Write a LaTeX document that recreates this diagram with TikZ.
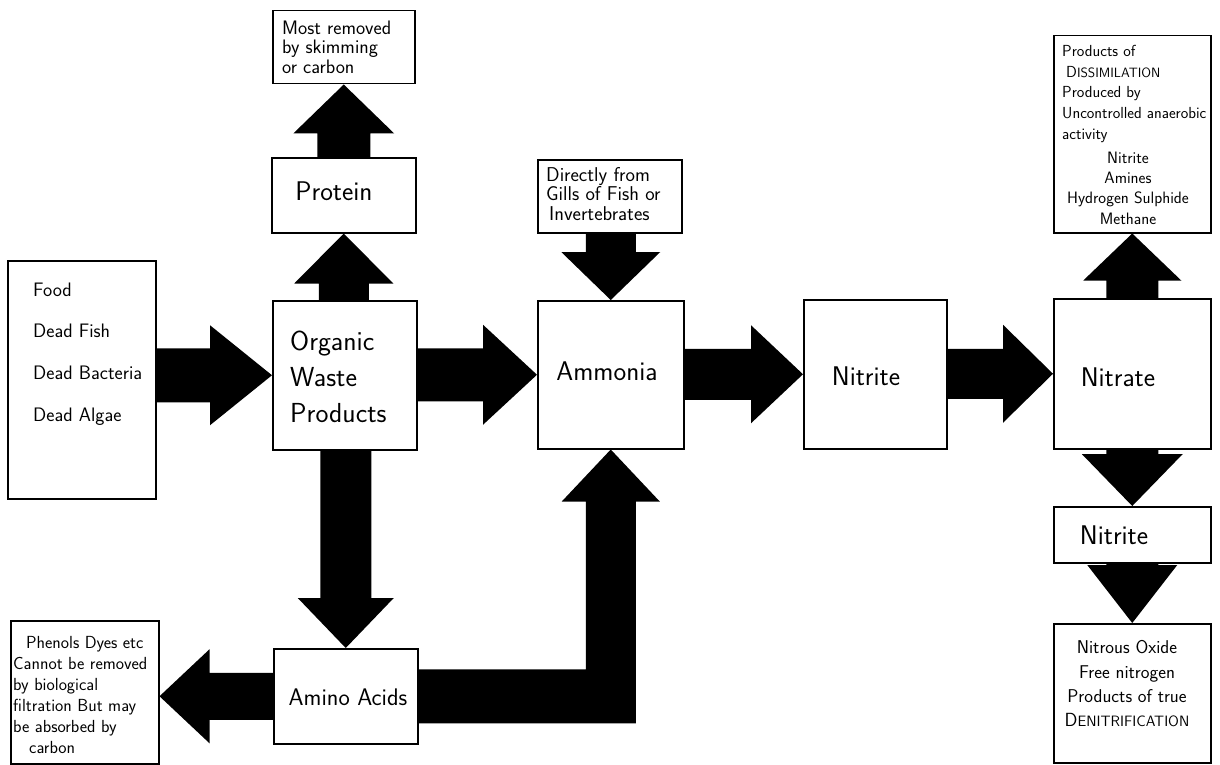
\documentclass[tikz,border=0pt]{standalone}
\usetikzlibrary{calc}
\newcommand\fs[2]{\fontsize{#1}{#2}\selectfont}
\newcommand\smcap[2]{#1{\fontsize{13.5}{13.5}\selectfont #2}}
% block arrows: #1 start, #2 tip, #3 stem half-width, #4 head half-width, #5 head length
\newcommand\arrR[5]{\fill let \p1=(#1), \p2=(#2) in (\x1,\y2+#3) -- (\x2-#5,\y2+#3) -- (\x2-#5,\y2+#4) -- (\p2) -- (\x2-#5,\y2-#4) -- (\x2-#5,\y2-#3) -- (\x1,\y2-#3) -- cycle;}
\newcommand\arrL[5]{\fill let \p1=(#1), \p2=(#2) in (\x1,\y2+#3) -- (\x2+#5,\y2+#3) -- (\x2+#5,\y2+#4) -- (\p2) -- (\x2+#5,\y2-#4) -- (\x2+#5,\y2-#3) -- (\x1,\y2-#3) -- cycle;}
\newcommand\arrU[5]{\fill let \p1=(#1), \p2=(#2) in (\x2+#3,\y1) -- (\x2+#3,\y2-#5) -- (\x2+#4,\y2-#5) -- (\p2) -- (\x2-#4,\y2-#5) -- (\x2-#3,\y2-#5) -- (\x2-#3,\y1) -- cycle;}
\newcommand\arrD[5]{\fill let \p1=(#1), \p2=(#2) in (\x2+#3,\y1) -- (\x2+#3,\y2+#5) -- (\x2+#4,\y2+#5) -- (\p2) -- (\x2-#4,\y2+#5) -- (\x2-#3,\y2+#5) -- (\x2-#3,\y1) -- cycle;}
\tikzset{
  box/.style={draw, line width=1.5pt, fill=white, rectangle, inner sep=0pt, anchor=north west},
  txt/.style={inner sep=0pt, font=\sffamily},
}
\begin{document}
\begin{tikzpicture}[x=1pt,y=-1pt]
\fill[white] (0,0) rectangle (1220,765);
\useasboundingbox (0,0) rectangle (1220,765);
% boxes
\node[box, minimum width=148pt, minimum height=238pt] (food) at (7,260) {};
\node[box, minimum width=142pt, minimum height=73pt] (most) at (272,10) {};
\node[box, minimum width=144pt, minimum height=75pt] (protein) at (271,157) {};
\node[box, minimum width=144pt, minimum height=149pt] (org) at (272,300) {};
\node[box, minimum width=144pt, minimum height=73pt] (directly) at (537,159) {};
\node[box, minimum width=146pt, minimum height=148pt] (amm) at (537,300) {};
\node[box, minimum width=143pt, minimum height=149pt] (nitrite) at (803,299) {};
\node[box, minimum width=157pt, minimum height=197pt] (dissim) at (1053,35) {};
\node[box, minimum width=157pt, minimum height=150pt] (nitrate) at (1053,298) {};
\node[box, minimum width=157pt, minimum height=56pt] (nitrite2) at (1053,506) {};
\node[box, minimum width=157pt, minimum height=139pt] (denit) at (1053,623) {};
\node[box, minimum width=148pt, minimum height=143pt] (phenols) at (10,620) {};
\node[box, minimum width=144pt, minimum height=95pt] (amino) at (273,648) {};
% arrows
\arrR{food.east}{org.west}{27pt}{50pt}{62pt}
\arrR{org.east}{amm.west}{26.5pt}{50pt}{54pt}
\arrR{amm.east}{nitrite.west}{25.5pt}{49pt}{52pt}
\arrR{nitrite.east}{nitrate.west}{25pt}{49pt}{50pt}
\arrU{org.north}{protein.south}{25pt}{49.5pt}{50pt}
\arrU{protein.north}{most.south}{26.5pt}{50.5pt}{49pt}
\arrD{directly.south}{amm.north}{25pt}{49.5pt}{48pt}
\arrD{org.south}{amino.north}{25.5pt}{48pt}{50pt}
\arrL{amino.west}{phenols.east |- amino.west}{23.5pt}{47pt}{50pt}
\fill let \p1=(amino.east), \p2=(amm.south) in
  (\x1,\y1+27pt) -- (\x2-25pt,\y1+27pt) -- (\x2-25pt,\y2-52pt) -- (\x2-49pt,\y2-52pt)
  -- (\p2) -- (\x2+49pt,\y2-52pt) -- (\x2+25pt,\y2-52pt) -- (\x2+25pt,\y1-27pt)
  -- (\x1,\y1-27pt) -- cycle;
\arrU{nitrate.north}{dissim.south}{26pt}{49pt}{47pt}
\arrD{nitrate.south}{nitrite2.north}{26pt}{50.5pt}{52pt}
\arrD{nitrite2.south}{denit.north}{26pt}{45pt}{58pt}
% texts
\node[txt, anchor=west, align=left, font=\sffamily\fs{19.5}{41.7}] (foodtxt) at (33,354)
  {Food\\Dead Fish\\Dead Bacteria\\Dead Algae};
\node[txt, anchor=west, align=left, font=\sffamily\fs{27.5}{36}] (orgtxt) at (290,377)
  {Organic\\Waste\\Products};
\node[txt, font=\sffamily\fs{27}{30}] (protxt) at (334,191) {Protein};
\node[txt, anchor=west, align=left, font=\sffamily\fs{19.5}{19.5}] (mosttxt) at (282,47)
  {Most removed\\by skimming\\or carbon};
\node[txt, anchor=west, align=left, font=\sffamily\fs{20}{19.5}] (dirtxt) at (546,194)
  {Directly from\\Gills of Fish or\\\hspace{3pt}Invertebrates};
\node[txt, font=\sffamily\fs{27}{30}] (ammtxt) at (607,371) {Ammonia};
\node[txt, font=\sffamily\fs{27}{30}] (nittxt) at (866,376) {Nitrite};
\node[txt, font=\sffamily\fs{27}{30}] (nattxt) at (1118,377) {Nitrate};
\node[txt, font=\sffamily\fs{27}{30}] (nit2txt) at (1114,535) {Nitrite};
\node[txt, anchor=west, align=left, font=\sffamily\fs{16}{20.75}] (dissimA) at (1062,94)
  {Products of\\\hspace{4pt}\smcap{D}{ISSIMILATION}\\Produced by\\Uncontrolled anaerobic\\activity};
\node[txt, align=center, font=\sffamily\fs{16.5}{20.3}] (dissimB) at (1128,188)
  {Nitrite\\Amines\\Hydrogen Sulphide\\Methane};
\node[txt, align=center, font=\sffamily\fs{18.5}{24.3}] (denittxt) at (1127,684)
  {Nitrous Oxide\\Free nitrogen\\Products of true\\{\fontsize{19}{19}\selectfont D}{\fontsize{15}{15}\selectfont ENITRIFICATION}};
\node[txt, anchor=west, align=left, font=\sffamily\fs{17.5}{21}] (phentxt) at (13,695)
  {\hspace{13pt}Phenols Dyes etc\\Cannot be removed\\by biological\\filtration But may\\be absorbed by\\\hspace{16pt}carbon};
\node[txt, font=\sffamily\fs{24}{28}] (amintxt) at (348,697) {Amino Acids};
\end{tikzpicture}
\end{document}
